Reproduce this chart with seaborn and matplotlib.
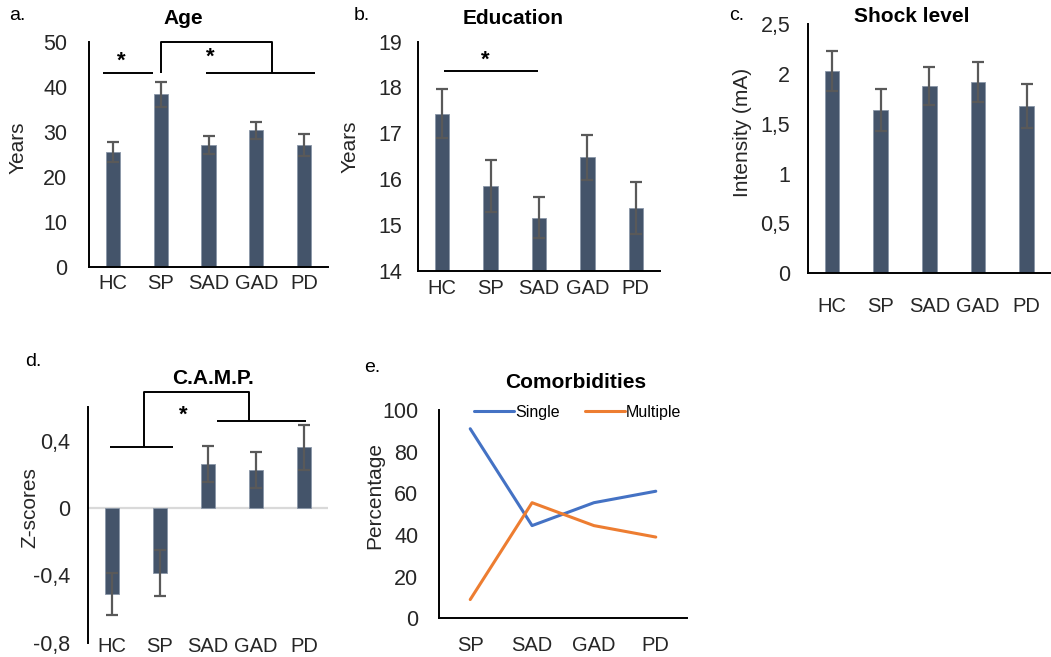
import numpy as np
import pandas as pd
import matplotlib
matplotlib.use("Agg")
import matplotlib.pyplot as plt
import seaborn as sns

groups = ["HC", "SP", "SAD", "GAD", "PD"]

age_mean = [25.5, 38.3, 27.1, 30.3, 27.1]
age_err = [2.3, 2.7, 2.0, 1.8, 2.4]

edu_mean = [17.43, 15.85, 15.16, 16.48, 15.37]
edu_err = [0.53, 0.57, 0.44, 0.49, 0.57]

shock_mean = [2.03, 1.64, 1.88, 1.92, 1.68]
shock_err = [0.20, 0.21, 0.19, 0.20, 0.22]

camp_mean = [-0.51, -0.385, 0.26, 0.226, 0.361]
camp_err = [0.125, 0.135, 0.107, 0.105, 0.135]

comorb_groups = ["SP", "SAD", "GAD", "PD"]
single_pct = [91, 44.5, 55.5, 61]
multiple_pct = [9, 55.5, 44.5, 39]

BAR = "#44546A"
ERR = "#595959"
FONT = ["Liberation Sans", "DejaVu Sans"]

sns.set_style("white")
plt.rcParams["font.family"] = FONT
plt.rcParams["text.color"] = "black"

W, H = 1051, 657
fig = plt.figure(figsize=(W / 100, H / 100), dpi=100)


def add_axes(left, top, right, bottom):
    return fig.add_axes([left / W, 1 - bottom / H, (right - left) / W, (bottom - top) / H])


def bar_panel(ax, means, errs, ylim, yticks, yticklabels, ylabel, label_x, label_y,
              ypad, xpad, xsize=14.5):
    df = pd.DataFrame({"group": groups, "value": means})
    sns.barplot(data=df, x="group", y="value", color=BAR, width=0.3, ax=ax,
                edgecolor="#8a96a8", linewidth=0.6, saturation=1)
    ax.errorbar(np.arange(len(groups)), means, yerr=errs, fmt="none",
                ecolor=ERR, elinewidth=1.6, capsize=4, capthick=1.6, zorder=5)
    ax.set_xlim(-0.5, len(groups) - 0.5)
    ax.set_ylim(*ylim)
    ax.set_yticks(yticks)
    ax.set_yticklabels(yticklabels)
    ax.set_xlabel("")
    ax.set_ylabel(ylabel, fontsize=15, va="center")
    ax.yaxis.set_label_coords(label_x, label_y)
    ax.tick_params(axis="y", length=0, pad=ypad, labelsize=15.5)
    ax.tick_params(axis="x", length=0, pad=xpad, labelsize=xsize)
    for s in ["top", "right"]:
        ax.spines[s].set_visible(False)
    for s in ["left", "bottom"]:
        ax.spines[s].set_color("black")
        ax.spines[s].set_linewidth(1.4)


def bracket(ax, xs, ys):
    ax.plot(xs, ys, color="black", lw=1.4, clip_on=False, solid_capstyle="butt")


def star(ax, x, y):
    ax.text(x, y, "*", ha="center", va="center", fontsize=16, fontweight="bold",
            clip_on=False)


# a. Age
ax_a = add_axes(89, 41.7, 328, 267)
bar_panel(ax_a, age_mean, age_err, (0, 50), range(0, 51, 10),
          [str(v) for v in range(0, 51, 10)], "Years", -0.297, 0.53, 15.5, 5)
bracket(ax_a, [-0.21, 0.83], [43.1, 43.1])
star(ax_a, 0.17, 45.6)
bracket(ax_a, [1.0, 1.0, 3.33, 3.33], [43.1, 50, 50, 43.1])
bracket(ax_a, [1.94, 4.23], [43.1, 43.1])
star(ax_a, 2.04, 46.6)

# b. Education
ax_b = add_axes(418, 41.7, 660, 270.7)
bar_panel(ax_b, edu_mean, edu_err, (14, 19), range(14, 20),
          [str(v) for v in range(14, 20)], "Years", -0.281, 0.54, 11.5, 6)
bracket(ax_b, [0.04, 1.98], [18.35, 18.35])
star(ax_b, 0.9, 18.6)

# c. Shock level
ax_c = add_axes(807.7, 24.3, 1051, 273.3)
bar_panel(ax_c, shock_mean, shock_err, (0, 2.5), [0, 0.5, 1, 1.5, 2, 2.5],
          ["0", "0,5", "1", "1,5", "2", "2,5"], "Intensity (mA)", -0.27, 0.565,
          12.5, 17)

# d. C.A.M.P.
ax_d = add_axes(88, 407.2, 328, 642.7)
bar_panel(ax_d, camp_mean, camp_err, (-0.8, 0.6), [-0.8, -0.4, 0, 0.4],
          ["-0,8", "-0,4", "0", "0,4"], "Z-scores", -0.242, 0.574, 13, -4)
ax_d.spines["bottom"].set_visible(False)
ax_d.axhline(0, color="#d9d9d9", lw=1.6, zorder=0.5)
bracket(ax_d, [-0.04, 1.28], [0.363, 0.363])
bracket(ax_d, [0.66, 0.66, 2.86, 2.86], [0.363, 0.69, 0.69, 0.52])
bracket(ax_d, [2.19, 4.04], [0.52, 0.52])
star(ax_d, 1.49, 0.555)

# e. Comorbidities
ax_e = add_axes(439.3, 410, 686.7, 618.3)
comorb = pd.DataFrame({
    "group": comorb_groups * 2,
    "pct": single_pct + multiple_pct,
    "type": ["Single"] * 4 + ["Multiple"] * 4,
})
comorb["pos"] = comorb["group"].map({g: i for i, g in enumerate(comorb_groups)})
sns.lineplot(data=comorb, x="pos", y="pct", hue="type",
             palette={"Single": "#4472C4", "Multiple": "#ED7D31"},
             lw=2.2, ax=ax_e)
ax_e.set_xlim(-0.5, 3.5)
ax_e.set_ylim(0, 100)
ax_e.set_xticks(range(4))
ax_e.set_xticklabels(comorb_groups)
ax_e.set_yticks(range(0, 101, 20))
ax_e.set_xlabel("")
ax_e.set_ylabel("Percentage", fontsize=15, va="center")
ax_e.yaxis.set_label_coords(-0.26, 0.588)
ax_e.tick_params(axis="y", length=0, pad=15, labelsize=15.5)
ax_e.tick_params(axis="x", length=0, pad=13, labelsize=14.5)
for s in ["top", "right"]:
    ax_e.spines[s].set_visible(False)
for s in ["left", "bottom"]:
    ax_e.spines[s].set_color("black")
    ax_e.spines[s].set_linewidth(1.4)
ax_e.legend(loc="center", bbox_to_anchor=(0.56, 0.99), ncol=2, frameon=False,
            fontsize=11.5, handlelength=2.5, handletextpad=0.05, columnspacing=1.6,
            borderaxespad=0)

# titles and panel letters
fig.text(183 / W, 1 - 18 / H, "Age", ha="center", va="center", fontsize=15, fontweight="bold")
fig.text(513 / W, 1 - 18 / H, "Education", ha="center", va="center", fontsize=15, fontweight="bold")
fig.text(912 / W, 1 - 17 / H, "Shock level", ha="center", va="center", fontsize=15, fontweight="bold")
fig.text(213 / W, 1 - 378 / H, "C.A.M.P.", ha="center", va="center", fontsize=15, fontweight="bold")
fig.text(576 / W, 1 - 382 / H, "Comorbidities", ha="center", va="center", fontsize=15, fontweight="bold")

for letter, x, y in [("a.", 17, 15), ("b.", 362, 15), ("c.", 737, 16),
                     ("d.", 33, 362), ("e.", 372, 367)]:
    fig.text(x / W, 1 - y / H, letter, ha="center", va="center", fontsize=14)

fig.savefig("out.png", dpi=100)
